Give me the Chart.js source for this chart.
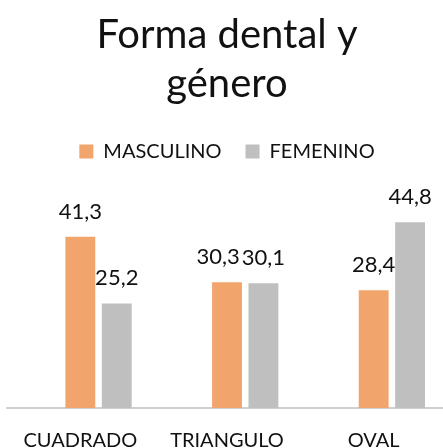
<!DOCTYPE html>
<html>
<head>
<meta charset="utf-8">
<script src="https://cdn.jsdelivr.net/npm/chart.js@4"></script>
<style>
    html, body { margin: 0; padding: 0; background: #fff; overflow: hidden; }
    #wrap { width: 443px; height: 448px; overflow: hidden; }
</style>
</head>
<body>
<div id="wrap"><canvas id="chart" width="450" height="466"></canvas></div>
<script>
// ============================================
// FORMA DENTAL Y GENERO - GROUPED BAR CHART
// ============================================

const categories = ['CUADRADO', 'TRIANGULO', 'OVAL'];
const masculino = [41.3, 30.3, 28.4];
const femenino = [25.2, 30.1, 44.8];
// empty series kept in the group (it shifts the visible bars like the original)
const vacio = [null, null, null];

const FONT = 'Lato, "Open Sans", sans-serif';

const fmt = v => v.toFixed(1).replace('.', ',');

// Draws the value above each bar, with a decimal comma.
// A left label that would run into its neighbour is pushed left.
const valueLabels = {
    id: 'valueLabels',
    afterDatasetsDraw(chart) {
        const ctx = chart.ctx;
        ctx.save();
        ctx.font = '22px ' + FONT;
        ctx.fillStyle = '#111';
        ctx.textAlign = 'center';
        ctx.textBaseline = 'alphabetic';
        const mMeta = chart.getDatasetMeta(1);
        const fMeta = chart.getDatasetMeta(2);
        categories.forEach((c, j) => {
            const mBar = mMeta.data[j];
            const fBar = fMeta.data[j];
            const mText = fmt(masculino[j]);
            const fText = fmt(femenino[j]);
            const mW = ctx.measureText(mText).width;
            const fW = ctx.measureText(fText).width;
            let mX = mBar.x;
            const mY = mBar.y - 18;
            const fY = fBar.y - 18;
            // only matters when both labels sit at about the same height
            if (Math.abs(mY - fY) < 20) {
                const overlap = (mX + mW / 2) - (fBar.x - fW / 2) + 2;
                if (overlap > 0) mX -= overlap;
            }
            ctx.fillText(mText, mX, mY);
            ctx.fillText(fText, fBar.x, fY);
        });
        ctx.restore();
    }
};

new Chart(document.getElementById('chart'), {
    type: 'bar',
    data: {
        labels: categories,
        datasets: [
            { label: '', data: vacio, backgroundColor: 'rgba(0,0,0,0)' },
            { label: 'MASCULINO', data: masculino, backgroundColor: '#f2a46d' },
            { label: 'FEMENINO', data: femenino, backgroundColor: '#bfbfbf' }
        ]
    },
    options: {
        responsive: false,
        animation: false,
        layout: { padding: { left: 7, right: 3, top: 11, bottom: 0 } },
        datasets: {
            bar: { categoryPercentage: 0.745, barPercentage: 0.82, borderWidth: 0 }
        },
        plugins: {
            title: {
                display: true,
                text: ['Forma dental y', 'género'],
                color: '#111',
                font: { family: FONT, size: 40, weight: 'normal', lineHeight: 1.22 },
                padding: { top: 0, bottom: 9 }
            },
            legend: {
                position: 'top',
                labels: {
                    filter: item => item.text !== '',
                    boxWidth: 14,
                    boxHeight: 14,
                    padding: 24,
                    color: '#111',
                    font: { family: FONT, size: 20 }
                }
            },
            tooltip: { enabled: false }
        },
        scales: {
            x: {
                grid: { display: false },
                border: { display: true, color: '#d0d0d0', width: 2 },
                ticks: {
                    color: '#111',
                    padding: 13,
                    font: { family: FONT, size: 20 }
                }
            },
            y: {
                display: false,
                min: 0,
                max: 57
            }
        }
    },
    plugins: [valueLabels]
});
</script>
</body>
</html>
